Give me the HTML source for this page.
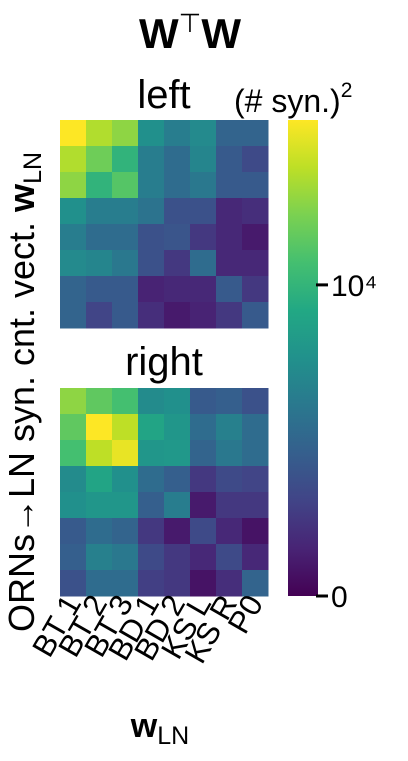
<!DOCTYPE html>
<html><head><meta charset="utf-8"><style>
body{margin:0;background:#fff;}
svg text{font-family:"Liberation Sans",sans-serif;fill:#000;}
</style></head><body>
<svg id="chart" width="408" height="756" xmlns="http://www.w3.org/2000/svg">
<defs><linearGradient id="vir" x1="0" y1="1" x2="0" y2="0">
<stop offset="0" stop-color="#440154"/><stop offset="0.1" stop-color="#482475"/><stop offset="0.2" stop-color="#414487"/><stop offset="0.3" stop-color="#355f8d"/><stop offset="0.4" stop-color="#2a788e"/><stop offset="0.5" stop-color="#21918c"/><stop offset="0.6" stop-color="#22a884"/><stop offset="0.7" stop-color="#44bf70"/><stop offset="0.8" stop-color="#7ad151"/><stop offset="0.9" stop-color="#bddf26"/><stop offset="1" stop-color="#fde725"/></linearGradient></defs>
<text x="190" y="48" text-anchor="middle" font-size="42" font-weight="bold">W<tspan font-weight="normal" font-size="26" dy="-16">⊤</tspan><tspan dy="16">W</tspan></text>
<text x="164" y="108" text-anchor="middle" font-size="40">left</text>
<text x="164" y="375" text-anchor="middle" font-size="40">right</text>
<text x="234" y="112" font-size="32">(# syn.)<tspan font-size="21" dy="-15">2</tspan></text>
<text transform="translate(34,392) rotate(-90)" text-anchor="middle" font-size="36">ORNs→LN syn. cnt. vect. <tspan font-weight="bold">w</tspan><tspan font-size="25" dy="7">LN</tspan></text>
<text x="160" y="737" text-anchor="middle" font-size="34"><tspan font-weight="bold">w</tspan><tspan font-size="25" dy="7">LN</tspan></text>
<rect x="288" y="120" width="30" height="476" fill="url(#vir)"/>
<g id="left"></g>
<g id="right"></g>
<g id="cbticks"></g>
<g id="xlabels"></g>
</svg>
<script>
const categories=["BT 1","BT 2","BT 3","BD 1","BD 2","KS L","KS R","P0"];
// values in thousands of (# syn.)^2
const leftValues=[
[15.3,13.5,12.7,7.6,6.4,7.2,4.9,4.9],
[13.5,11.9,9.9,6.4,5.4,6.9,4.3,3.4],
[12.7,9.9,11.2,6.4,5.4,6.1,4.3,4.3],
[7.6,6.4,6.4,5.8,3.8,3.8,1.7,2.0],
[6.4,5.4,5.4,3.8,4.0,2.5,1.7,1.1],
[7.2,6.9,6.1,3.8,2.5,5.4,1.7,1.7],
[4.9,4.3,4.3,1.5,1.7,1.7,4.3,2.5],
[4.9,3.1,4.3,2.0,1.1,1.5,2.5,4.3]];
const rightValues=[
[12.7,11.5,10.7,7.3,7.6,4.3,4.6,3.8],
[11.5,15.3,13.8,8.9,8.0,5.4,6.6,5.4],
[10.7,13.8,14.8,8.0,8.1,4.9,6.1,5.4],
[7.3,8.9,7.6,5.4,4.6,2.5,3.4,3.1],
[7.6,8.0,8.0,4.6,6.4,1.1,2.5,2.5],
[4.3,5.4,4.9,2.5,1.1,3.4,1.7,0.8],
[4.6,6.6,6.1,3.4,2.5,1.7,3.4,1.7],
[3.8,5.4,5.4,2.8,2.5,0.8,2.0,4.9]];
const vmin=0, vmax=15.3;
const cbTicks=[0,10];
const cbTickLabels=["0","10⁴"];
const stops=[[68,1,84],[72,36,117],[65,68,135],[53,95,141],[42,120,142],[33,145,140],[34,168,132],[68,191,112],[122,209,81],[189,223,38],[253,231,37]];
function viridis(t){t=Math.max(0,Math.min(1,t));const f=t*10,i=Math.min(9,Math.floor(f)),r=f-i;const a=stops[i],b=stops[i+1];return `rgb(${a.map((v,k)=>Math.round(v+(b[k]-v)*r)).join(',')})`;}
const NS="http://www.w3.org/2000/svg";
const cell=26, x0=60;
function xPos(j){return x0+j*cell;}
function draw(gid,vals,y0,name){
 const g=document.getElementById(gid);
 vals.forEach((row,i)=>row.forEach((v,j)=>{
  const r=document.createElementNS(NS,'rect');
  r.setAttribute('x',xPos(j));r.setAttribute('y',y0+i*cell);
  r.setAttribute('width',cell+0.5);r.setAttribute('height',cell+0.5);
  r.setAttribute('fill',viridis((v-vmin)/(vmax-vmin)));
  
  
  g.appendChild(r);}));
}
draw('left',leftValues,120,'left');
draw('right',rightValues,388,'right');
const cbY=v=>596-(v-vmin)/(vmax-vmin)*476;
const tg=document.getElementById('cbticks');
cbTicks.forEach((v,k)=>{
 const l=document.createElementNS(NS,'line');
 l.setAttribute('x1',316);l.setAttribute('x2',328);l.setAttribute('y1',cbY(v));l.setAttribute('y2',cbY(v));
 l.setAttribute('stroke','#000');l.setAttribute('stroke-width',3);
 
 
 tg.appendChild(l);
 const t=document.createElementNS(NS,'text');
 t.setAttribute('x',331);t.setAttribute('y',cbY(v)+11);t.setAttribute('font-size',30);
 t.textContent=cbTickLabels[k];
 
 
 tg.appendChild(t);
});
const xg=document.getElementById('xlabels');
categories.forEach((c,j)=>{
 const t=document.createElementNS(NS,'text');
 const x=xPos(j)+cell/2+9, y=603;
 t.setAttribute('transform',`translate(${x},${y}) rotate(-60)`);
 t.setAttribute('text-anchor','end');t.setAttribute('font-size',31);
 t.textContent=c;
 
 
 xg.appendChild(t);
});
</script>
</body></html>
